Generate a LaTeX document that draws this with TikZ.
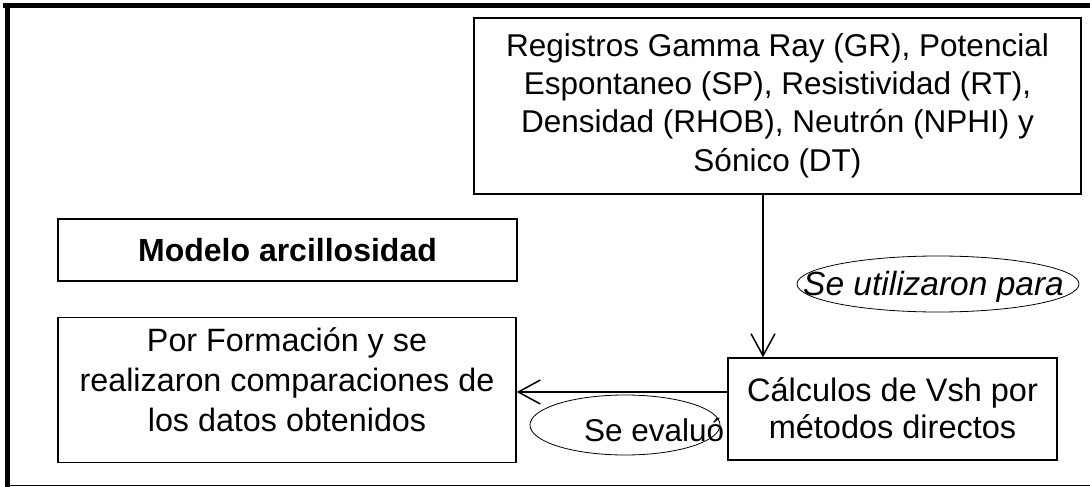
\documentclass[tikz,border=0pt]{standalone}
\usepackage{fontspec}
\setmainfont{Liberation Sans}
\usetikzlibrary{arrows.meta,shapes.geometric}
\tikzset{
  box/.style={draw, line width=1.5pt, rectangle, inner sep=0pt, align=center,
    font=\fontsize{32}{38}\selectfont},
  txt/.style={inner sep=0pt, align=center, anchor=base},
  oval/.style={draw, line width=0.8pt, ellipse, inner sep=0pt},
  lbl/.style={inner sep=0pt, anchor=base west},
  arr/.style={line width=1.5pt, -{Straight Barb[length=22pt,width=24pt,line width=1.5pt]}},
}
\begin{document}
\begin{tikzpicture}[x=1pt,y=-1pt]
\useasboundingbox (0,0) rectangle (1090,487);
% frame
\draw[line width=5pt] (3,5.5) -- (1090,5.5);
\draw[line width=5pt] (7.5,3) -- (7.5,487);
\draw[line width=1.5pt] (5,485.5) -- (1090,485.5);
% boxes
\node[box, minimum width=607pt, minimum height=176pt] (top) at (777.5,106) {};
\node[txt, font=\fontsize{31.5}{38.3}\selectfont] (toptxt) at (777.5,171)
  {Registros Gamma Ray (GR), Potencial\\Espontaneo (SP), Resistividad (RT),\\Densidad (RHOB), Neutrón (NPHI) y\\Sónico (DT)};
\node[box, minimum width=459pt, minimum height=62pt, font=\fontsize{32}{38}\selectfont\bfseries] (mod) at (287.5,250) {Modelo arcillosidad};
\node[box, minimum width=458pt, minimum height=145pt] (por) at (287,390) {};
\node[txt, font=\fontsize{32.3}{40}\selectfont] (portxt) at (287,431)
  {Por Formación y se\\realizaron comparaciones de\\los datos obtenidos};
\node[box, minimum width=329pt, minimum height=102pt] (calc) at (892.5,409) {};
\node[txt, font=\fontsize{32.5}{37}\selectfont] (calctxt) at (892.5,438)
  {Cálculos de Vsh por\\métodos directos};
% ellipses
\node[oval, minimum width=282pt, minimum height=56pt] (e1) at (938,284) {};
\node[lbl, font=\fontsize{33.5}{38}\selectfont\itshape] (e1txt) at (803,295) {Se utilizaron para};
\node[oval, minimum width=190pt, minimum height=60pt] (e2) at (625,425) {};
\node[lbl, font=\fontsize{31.5}{38}\selectfont] (e2txt) at (584,441) {Se evaluó};
% connectors
\coordinate (xv) at (763,0);
\coordinate (yh) at (0,392);
\draw[arr] (top.south -| xv) -- (calc.north -| xv);
\draw[arr] (calc.west |- yh) -- (por.east |- yh);
\end{tikzpicture}
\end{document}
